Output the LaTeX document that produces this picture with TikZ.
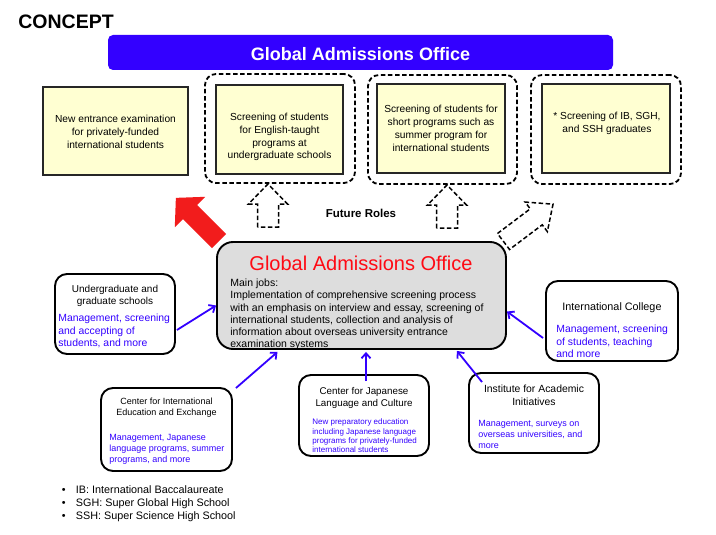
\documentclass[tikz,border=0pt]{standalone}
\usepackage{fontspec}
\setmainfont{Liberation Sans}
\usetikzlibrary{arrows.meta,calc}

\definecolor{bannerblue}{HTML}{3300FF}
\definecolor{noteyellow}{HTML}{FFFFD2}
\definecolor{officegrey}{HTML}{DDDDDD}
\definecolor{arrowred}{HTML}{F21C1C}
\definecolor{titlered}{HTML}{FF0A14}
\definecolor{textblue}{HTML}{3300FF}

% block arrow along the local x axis: length, head length, head half width, shaft half width
\newcommand{\fatarrow}[4]{(0,-#4) -- (#1-#2,-#4) -- (#1-#2,-#3) -- (#1,0) -- (#1-#2,#3) -- (#1-#2,#4) -- (0,#4) -- cycle}

\begin{document}
\begin{tikzpicture}[x=1pt,y=-1pt,line width=0.8pt,
  ybox/.style={draw=black!85,line width=1.3pt,fill=noteyellow,inner sep=0pt},
  ytext/.style={align=center,inner sep=0pt,font=\fontsize{10.2}{12.8}\selectfont},
  dbox/.style={draw,line width=1.8pt,dash pattern=on 4.5pt off 2.6pt,rounded corners=11pt,inner sep=0pt},
  unit/.style={draw,line width=1.9pt,fill=white,rounded corners=12pt,inner sep=0pt},
  utitle/.style={align=center,inner sep=0pt},
  ujob/.style={align=left,inner sep=0pt,text=textblue,anchor=west},
  conn/.style={draw=textblue,line width=1.8pt,-{Straight Barb[length=5pt,width=9pt]}},
  future/.style={draw,fill=white,line width=1.5pt,dash pattern=on 4.5pt off 2.5pt}]
\path[use as bounding box,fill=white] (0,0) rectangle (716,535);
% ---------- header ----------
\node[anchor=base west,inner sep=0pt,font=\fontsize{19.5}{22}\selectfont\bfseries] (concept) at (18,29) {CONCEPT};
\node[fill=bannerblue,rounded corners=5pt,minimum width=505pt,minimum height=35pt,inner sep=0pt] (banner) at (360.5,52.5) {};
\node[anchor=base,inner sep=0pt,text=white,font=\fontsize{18}{20}\selectfont\bfseries] (banner-t) at (360.5,60.5) {Global Admissions Office};
% ---------- roles ----------
\node[ybox,minimum width=145pt,minimum height=88pt] (role1) at (115.5,131) {};
\node[ytext] (role1-t) at (115.5,132) {New entrance examination\\for privately-funded\\international students};
\node[dbox,minimum width=150pt,minimum height=109pt] (dash2) at (280,128.5) {};
\node[ybox,minimum width=127pt,minimum height=89pt] (role2) at (279.5,129.5) {};
\node[ytext] (role2-t) at (279.5,137) {Screening of students\\for English-taught\\programs at\\undergraduate schools};
\node[dbox,minimum width=149pt,minimum height=109pt] (dash3) at (442.5,129.5) {};
\node[ybox,minimum width=128pt,minimum height=89pt] (role3) at (441,128.5) {};
\node[ytext] (role3-t) at (441,128.5) {Screening of students for\\short programs such as\\summer program for\\international students};
\node[dbox,minimum width=150pt,minimum height=109pt] (dash4) at (606,129.5) {};
\node[ybox,minimum width=128pt,minimum height=89pt] (role4) at (606,128.5) {};
\node[ytext] (role4-t) at (607,123.5) {* Screening of IB, SGH,\\and SSH graduates};
% ---------- future roles arrows ----------
\draw[future,shift={(268,227)},rotate=90] \fatarrow{43}{20}{19.5}{10.5};
\draw[future,shift={(447,228)},rotate=90] \fatarrow{43}{20}{19.5}{10.5};
\draw[future,shift={(503.5,241.5)},rotate=37] \fatarrow{62}{21}{18.5}{10};
\fill[arrowred,shift={(219,241)},rotate=135] \fatarrow{61}{20}{21.5}{10};
\node[anchor=base,inner sep=0pt,font=\fontsize{11.5}{13}\selectfont\bfseries] (future-t) at (361,217.5) {Future Roles};
% ---------- office ----------
\node[draw,line width=1.9pt,fill=officegrey,rounded corners=16pt,minimum width=289pt,minimum height=107pt,inner sep=0pt] (gao) at (361.5,295.5) {};
\node[anchor=base,inner sep=0pt,text=titlered,font=\fontsize{20}{22}\selectfont] (gao-t) at (361,270) {Global Admissions Office};
\begin{scope}
  \clip[rounded corners=15pt] ($(gao.north west)+(1,1)$) rectangle ($(gao.south east)+(-1,-1)$);
  \node[anchor=west,align=left,inner sep=0pt,font=\fontsize{10.5}{12.3}\selectfont] (gao-j) at (230,314.5) {Main jobs:\\Implementation of comprehensive screening process\\with an emphasis on interview and essay, screening of\\international students, collection and analysis of\\information about overseas university entrance\\examination systems};
\end{scope}
% ---------- units ----------
\node[unit,minimum width=120pt,minimum height=80pt] (ugs) at (115,314) {};
\node[utitle,font=\fontsize{10}{12.4}\selectfont] (ugs-t) at (115,296) {Undergraduate and\\graduate schools};
\node[ujob,font=\fontsize{10.4}{12.5}\selectfont] (ugs-j) at (58,331) {Management, screening\\and accepting of\\students, and more};
\node[unit,minimum width=132pt,minimum height=80pt] (ic) at (612,321) {};
\node[utitle,font=\fontsize{10.8}{12.5}\selectfont] (ic-t) at (612,307.5) {International College};
\node[ujob,font=\fontsize{10.4}{12.5}\selectfont] (ic-j) at (556,341.5) {Management, screening\\of students, teaching\\and more};
\node[unit,minimum width=131pt,minimum height=83pt] (ciee) at (166.5,429.5) {};
\node[utitle,font=\fontsize{9}{11}\selectfont] (ciee-t) at (166.5,408) {Center for International\\Education and Exchange};
\node[ujob,font=\fontsize{9}{11}\selectfont] (ciee-j) at (109,449.5) {Management, Japanese\\language programs, summer\\programs, and more};
\node[unit,minimum width=130pt,minimum height=81pt] (cjlc) at (364,415.5) {};
\node[utitle,font=\fontsize{9.8}{12}\selectfont] (cjlc-t) at (364,397.5) {Center for Japanese\\Language and Culture};
\node[ujob,font=\fontsize{8}{9.4}\selectfont] (cjlc-j) at (312,436) {New preparatory education\\including Japanese language\\programs for privately-funded\\international students};
\node[unit,minimum width=130pt,minimum height=80pt] (iai) at (534,413) {};
\node[utitle,font=\fontsize{10.4}{12.7}\selectfont] (iai-t) at (534,395) {Institute for Academic\\Initiatives};
\node[ujob,font=\fontsize{9}{11}\selectfont] (iai-j) at (478,434) {Management, surveys on\\overseas universities, and\\more};
% ---------- connectors ----------
\draw[conn] ($(ugs.east)+(1,16)$) -- ($(gao.west)+(0,10)$);
\draw[conn] ($(ic.west)+(-2,17)$) -- ($(gao.east)+(0,16)$);
\draw[conn] ($(ciee.north east)+(3,1)$) -- ($(gao.south)+(-84,2)$);
\draw[conn] ($(cjlc.north)+(2,7)$) -- ($(gao.south)+(4.5,2)$);
\draw[conn] ($(iai.north west)+(14,10)$) -- ($(gao.south east)+(-50,1)$);
% ---------- notes ----------
\node[anchor=west,align=left,inner sep=0pt,font=\fontsize{10.8}{13}\selectfont] (notes) at (61.5,504) {\textbullet\hspace{10.3pt}IB: International Baccalaureate\\\textbullet\hspace{10.3pt}SGH: Super Global High School\\\textbullet\hspace{10.3pt}SSH: Super Science High School};
\end{tikzpicture}
\end{document}
